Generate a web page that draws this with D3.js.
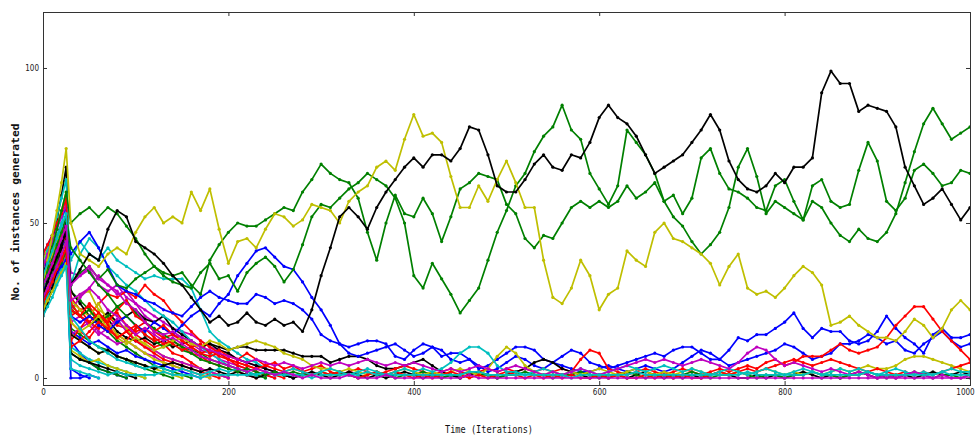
<!DOCTYPE html>
<html>
<head>
<meta charset="utf-8">
<script src="https://cdn.jsdelivr.net/npm/d3@7"></script>
<style>
  body { margin: 0; background: #fff; }
  svg { display: block; }
</style>
</head>
<body>
<svg id="chart" width="980" height="437"></svg>
<script>
// Sampling instants: fine steps through the start-up phase, then every 10 iterations.
const iterations = [0, 5, 10, 15, 20, 25].concat(d3.range(30, 1001, 10));

const xTicks = [0, 200, 400, 600, 800, 1000];
const yTicks = [0, 50, 100];

// matplotlib "classic" single-letter colours
const palette = { b: "#0000ff", g: "#008000", r: "#ff0000", c: "#00bfbf", m: "#bf00bf", y: "#bfbf00", k: "#000000" };

// ---- Runs that die out early (values on the same sampling instants, stop once they hit 0) ----
const earlyColors = ["b","g","r","c","m","y","k","b","g","r","c","m","y","k","b","g","r","c","m","y","k","r","b","m","y","g","c","r"];
const earlyRuns = [
  [26,30,34,37,40,44, 3,1,0],
  [32,36,40,44,47,52, 28,25,22,19,15,12,10,8,6,4,3,2,1,0],
  [28,31,35,38,42,45, 26,22,23,19,20,17,16,14,12,10,11,8,7,5,3,2,1,0],
  [34,38,42,46,50,56, 38,44,40,38,42,38,36,34,32,33,32,32,32,29,22,15,12,10,8,6,5,3,2,1,0],
  [30,33,37,40,44,50, 34,33,35,30,28,30,26,24,22,20,18,16,15,14,12,10,9,8,6,5,4,3,2,1,0],
  [22,26,29,33,36,40, 20,27,28,22,20,18,16,12,11,9,7,6,5,4,3,2,1,0],
  [24,28,32,36,40,45, 28,24,20,18,19,15,13,12,13,11,12,10,11,12,10,11,10,9,10,10,9,9,9,9,8,7,7,7,5,6,7,7,6,4,3,3,4,5,6,4,2,1,0],
  [35,38,41,44,47,50, 12,8,5,3,2,1,0],
  [22,25,28,31,34,37, 16,14,12,10,9,7,6,4,3,2,1,0],
  [36,39,42,45,48,52, 20,22,18,16,19,21,17,15,16,13,11,12,10,8,7,5,4,3,2,1,0],
  [26,29,32,35,38,41, 10,8,6,5,4,3,2,1,0],
  [24,27,30,33,36,39, 22,26,29,33,30,27,28,24,20,18,16,14,13,11,9,8,6,5,4,3,2,1,0],
  [38,42,46,50,54,60, 15,12,10,8,9,7,6,5,4,3,2,1,0],
  [30,37,44,51,59,68, 22,20,17,19,21,18,20,22,19,18,20,16,14,12,10,11,9,8,6,5,4,3,2,1,0],
  [30,33,37,40,43,47, 15,13,11,12,10,8,9,7,6,5,4,3,2,1,0],
  [28,32,35,39,42,46, 8,6,5,3,2,1,0],
  [32,35,39,42,46,49, 18,15,13,17,15,14,12,16,18,15,13,14,12,10,8,9,7,6,4,3,2,1,0],
  [36,41,46,52,58,64, 30,40,45,42,36,33,30,28,25,22,20,18,15,12,10,8,6,4,3,2,1,0],
  [33,36,40,43,47,51, 14,16,18,15,13,11,12,10,8,7,5,4,3,2,1,0],
  [26,30,34,37,41,44, 9,7,5,6,4,3,2,1,0],
  [34,37,41,44,48,52, 8,6,5,4,3,2,1,0],
  [26,29,32,36,39,42, 12,16,20,24,27,26,28,26,30,27,25,21,18,15,12,10,8,6,5,4,3,2,1,0],
  [40,43,46,49,52,55, 0,0,1,0],
  [36,40,44,48,52,56, 18,20,17,14,16,19,15,12,10,9,7,6,5,4,3,2,1,0],
  [32,36,40,44,48,52, 25,22,20,24,18,14,12,10,8,6,5,4,3,2,1,0],
  [25,28,31,34,37,41, 24,20,22,18,20,23,25,21,18,16,14,12,10,9,8,6,5,4,3,2,1,0],
  [23,26,29,32,35,38, 3,2,1,0],
  [40,43,46,50,53,58, 24,20,18,21,17,13,15,12,10,8,6,5,4,3,2,1,0]
];

// ---- Long-lived runs (full 0..1000 range) ----
const blueA = [25,28,31,34,36,38,
  20,18,20,17,15,18,20,17,
  15,18,16,14,17,20,22,20,24,27,
  33,37,41,42,39,36,35,31,26,22,
  17,11,8,7,8,9,10,11,9,7,
  8,10,9,6,5,6,4,2,3,5,
  7,6,4,3,5,4,3,2,2,3,
  4,3,2,3,4,3,2,3,5,7,
  9,8,6,4,5,6,7,8,9,11,
  10,8,6,7,8,11,11,12,14,13,
  11,12,9,8,11,13,15,12,10,11];

const blueB = [28,31,35,39,42,46,
  40,44,47,42,36,30,28,27,
  25,24,22,21,20,23,26,28,26,25,
  24,24,27,26,24,25,24,22,19,14,
  12,11,10,11,12,12,11,7,6,9,
  11,10,7,8,8,6,3,4,6,8,
  10,10,9,6,5,7,9,8,5,4,
  3,4,5,6,7,8,7,9,10,10,
  8,6,6,9,13,12,14,14,16,18,
  21,16,13,16,15,15,12,11,12,15,
  20,16,13,11,8,14,16,13,13,14];

const redA = [30,33,36,40,43,46,
  22,20,24,21,18,22,25,20,
  18,15,17,14,12,10,11,8,9,7,
  6,8,6,4,5,3,4,2,3,4,
  2,1,2,3,2,1,2,3,4,3,
  2,1,2,3,2,1,2,3,2,3,
  2,3,2,3,2,3,2,6,9,8,
  3,2,1,2,3,2,1,2,3,2,
  1,2,3,2,3,4,3,5,6,4,
  5,7,7,7,9,11,9,8,9,10,
  13,17,20,23,23,19,15,12,9,6];

const greenB = [24,28,33,38,43,48,
  30,34,36,32,35,30,29,32,
  34,36,33,31,30,29,34,37,32,33,
  28,34,37,39,36,31,35,43,52,56,
  55,58,61,63,66,64,62,58,50,33,
  29,37,32,27,21,25,29,38,47,54,
  62,66,73,78,81,88,80,77,66,61,
  56,62,80,76,72,66,57,52,49,44,
  40,43,47,55,68,74,65,53,57,55,
  53,51,57,55,50,46,44,48,45,44,
  47,53,63,73,82,87,82,77,79,81];

const greenA = [30,36,42,48,54,60,
  50,53,55,52,55,53,49,45,
  40,36,34,33,34,30,27,38,43,47,
  50,49,49,51,53,55,54,60,64,69,
  66,64,63,58,47,38,50,59,53,52,
  58,53,44,52,61,63,66,65,64,56,
  53,45,42,46,45,50,55,57,55,57,
  55,57,62,58,60,63,57,59,53,58,
  71,74,66,61,60,58,55,54,62,64,
  57,51,62,64,57,55,56,67,76,70,
  57,54,58,67,69,66,62,63,67,66];

const yellowA = [30,38,46,54,63,74,
  50,40,38,36,40,42,40,47,
  52,55,50,52,50,60,54,61,48,37,
  44,45,42,48,53,52,49,51,56,55,
  54,50,57,60,62,68,70,67,77,85,
  78,79,76,65,55,55,62,57,64,70,
  63,55,55,38,26,24,29,38,33,22,
  27,29,41,38,36,47,50,45,44,42,
  40,37,30,36,40,29,27,28,26,29,
  33,36,34,30,17,18,20,17,15,13,
  13,12,15,19,17,13,16,22,25,22];

const blackA = [20,24,29,35,42,50,
  30,35,40,38,48,54,52,44,
  42,40,37,33,30,26,22,18,20,17,
  18,21,18,17,19,17,18,15,22,33,
  42,52,55,52,48,55,60,64,68,71,
  68,72,72,70,74,81,80,72,62,60,
  60,64,69,72,68,67,72,71,76,84,
  88,84,82,78,72,66,68,70,72,76,
  80,85,80,70,64,61,60,62,66,63,
  68,68,71,92,99,95,95,86,88,87,
  86,81,68,62,56,58,61,56,51,55];

// ---- Runs that linger near zero for the whole period ----
const lowMagentaA = [26,29,33,36,40,44,
  30,33,36,32,30,28,24,22,
  18,15,14,15,13,12,10,9,8,7,
  6,5,6,5,4,5,4,3,4,5,
  4,5,4,5,6,5,4,5,4,5,
  4,3,2,3,2,3,4,3,2,3,
  4,3,2,1,2,1,2,3,2,1,
  2,3,4,5,6,5,6,5,4,5,
  6,5,4,3,5,8,10,9,6,4,
  5,4,3,2,3,2,1,2,1,0,
  1,0,1,2,1,0,1,0,0,1];

const lowCyanA = [33,37,41,45,49,53,
  20,16,12,10,8,6,5,4,
  3,4,3,2,3,2,1,2,3,2,
  3,2,1,2,1,2,3,2,1,2,
  3,2,1,2,3,2,1,2,3,2,
  3,2,3,5,8,10,10,8,4,2,
  2,1,2,3,2,1,2,3,2,1,
  2,3,4,3,2,3,4,3,2,3,
  2,1,2,3,2,1,2,3,2,1,
  2,3,2,1,2,3,2,3,2,1,
  2,3,2,1,2,1,2,3,2,2];

const lowBlack = [27,31,35,39,43,47,
  14,12,10,8,9,7,6,5,
  4,3,4,5,4,3,2,3,2,1,
  2,1,0,1,2,1,0,1,2,1,
  0,1,2,1,0,1,0,1,2,1,
  0,1,0,1,0,1,2,1,0,1,
  2,3,5,6,5,3,2,1,0,1,
  0,1,0,1,2,1,0,1,0,1,
  0,1,2,1,0,0,1,0,1,0,
  1,2,1,0,1,0,1,2,1,0,
  1,0,1,0,1,2,1,1,2,1];

const lowGreen = [30,34,38,43,47,52,
  42,38,34,30,27,23,20,17,
  14,12,10,11,9,8,6,5,4,3,
  2,3,2,1,2,1,2,1,1,2,
  1,2,1,0,1,2,1,0,1,1,
  2,1,0,1,1,2,1,1,0,1,
  1,2,1,1,0,1,1,2,1,0,
  1,1,2,1,0,1,1,0,1,2,
  1,0,1,1,2,1,0,1,1,0,
  1,1,2,1,1,0,1,1,2,1,
  0,1,1,2,1,0,1,1,0,1];

const lowYellow = [22,25,28,31,34,37,
  18,15,17,20,16,13,11,13,
  11,9,10,12,13,11,10,12,11,9,
  10,11,12,11,10,8,7,6,4,3,
  3,2,3,2,1,2,1,2,3,2,
  1,2,1,2,3,2,1,3,7,10,
  8,4,2,1,2,1,2,1,2,3,
  2,1,2,3,2,1,2,1,2,3,
  2,1,2,1,2,1,2,3,2,1,
  2,1,2,1,2,3,2,3,4,3,
  3,4,6,7,7,6,5,4,3,2];

const lowRed = [24,28,31,35,38,42,
  10,12,15,18,16,13,15,17,
  14,12,13,11,9,10,8,7,8,6,
  5,4,3,4,3,2,3,2,1,2,
  1,2,1,0,1,2,1,2,1,0,
  1,0,1,2,1,0,1,0,1,2,
  1,0,1,0,1,0,1,0,0,1,
  0,1,0,0,1,0,1,0,1,0,
  0,1,2,1,2,3,2,3,4,5,
  6,5,4,5,6,5,4,3,2,3,
  2,1,2,1,2,1,2,3,4,5];

const lowCyanB = [20,23,26,30,33,36,
  6,4,3,2,1,2,1,1,
  1,1,2,1,1,1,0,1,1,1,
  1,1,1,2,1,1,1,1,0,1,
  1,1,1,1,2,1,1,1,1,1,
  1,1,1,1,1,2,2,1,1,1,
  1,1,1,1,1,1,0,1,1,1,
  1,1,1,2,1,1,1,1,1,1,
  1,1,1,1,1,2,1,1,1,1,
  1,1,2,1,1,1,1,1,2,1,
  1,1,1,1,1,1,2,1,1,1];

const lowMagentaB = [30,33,37,41,45,49,
  25,27,29,26,22,20,17,14,
  16,14,12,13,11,9,7,6,5,4,
  3,2,3,2,1,2,1,0,1,0,
  0,0,1,0,0,0,1,0,0,0,
  0,0,0,0,0,1,0,0,0,0,
  0,0,0,0,0,0,0,0,0,0,
  0,0,0,0,0,0,0,0,0,0,
  0,0,0,0,0,0,0,0,0,0,
  0,0,0,0,0,0,0,0,0,0,
  0,0,0,0,0,0,0,0,0,0];

// Drawing order: early runs, long-lived runs, then the near-zero runs
const allSeries = earlyRuns.map((v, i) => ({ color: earlyColors[i], values: v }))
  .concat([
    { color: "b", values: blueA },
    { color: "b", values: blueB },
    { color: "r", values: redA },
    { color: "g", values: greenB },
    { color: "g", values: greenA },
    { color: "y", values: yellowA },
    { color: "k", values: blackA },
    { color: "k", values: lowBlack },
    { color: "g", values: lowGreen },
    { color: "y", values: lowYellow },
    { color: "r", values: lowRed },
    { color: "c", values: lowCyanA },
    { color: "m", values: lowMagentaA },
    { color: "c", values: lowCyanB },
    { color: "m", values: lowMagentaB }
  ]);

// ---- Layout ----
const svg = d3.select("#chart");
const plot = { left: 43, right: 970, top: 12, bottom: 385 };

const x = d3.scaleLinear().domain([0, 1000]).range([plot.left, plot.right]);
const y = d3.scaleLinear().domain([-2.26, 118.06]).range([plot.bottom, plot.top]);

svg.append("defs").append("clipPath").attr("id", "plotClip")
  .append("rect")
  .attr("x", plot.left).attr("y", plot.top)
  .attr("width", plot.right - plot.left).attr("height", plot.bottom - plot.top);

const line = d3.line()
  .x((d, i) => x(iterations[i]))
  .y(d => y(d));

const marks = svg.append("g").attr("clip-path", "url(#plotClip)");

allSeries.forEach(s => {
  const col = palette[s.color];
  const g = marks.append("g");
  g.append("path")
    .datum(s.values)
    .attr("fill", "none")
    .attr("stroke", col)
    .attr("stroke-width", 1.7)
    .attr("stroke-linejoin", "round")
    .attr("d", line);
  g.selectAll("circle")
    .data(s.values)
    .join("circle")
    .attr("cx", (d, i) => x(iterations[i]))
    .attr("cy", d => y(d))
    .attr("r", 1.6)
    .attr("fill", col);
});

// ---- Axes: ticks point inward on all four sides ----
const tickFont = "'DejaVu Sans', sans-serif";
function squeezeLabels(sel) {
  sel.selectAll("text")
    .attr("font-family", tickFont)
    .attr("font-size", 9)
    .attr("fill", "#222")
    .attr("textLength", function () { return this.textContent.length * 4.6; })
    .attr("lengthAdjust", "spacingAndGlyphs");
}

const xAxis = svg.append("g")
  .attr("transform", `translate(0,${plot.bottom})`)
  .call(d3.axisBottom(x).tickValues(xTicks).tickFormat(d3.format("d")).tickSize(-4).tickPadding(4));
const yAxis = svg.append("g")
  .attr("transform", `translate(${plot.left},0)`)
  .call(d3.axisLeft(y).tickValues(yTicks).tickFormat(d3.format("d")).tickSize(-4).tickPadding(4));
const xTop = svg.append("g")
  .attr("transform", `translate(0,${plot.top})`)
  .call(d3.axisTop(x).tickValues(xTicks).tickFormat("").tickSize(-4));
const yRight = svg.append("g")
  .attr("transform", `translate(${plot.right},0)`)
  .call(d3.axisRight(y).tickValues(yTicks).tickFormat("").tickSize(-4));

[xAxis, yAxis, xTop, yRight].forEach(a => {
  a.select(".domain").remove();
  a.selectAll(".tick line").attr("stroke", "#333");
  squeezeLabels(a);
});

// keep the last x label inside the canvas
xAxis.selectAll(".tick text").filter(d => d === 1000).attr("dx", -5);

// plot frame
svg.append("rect")
  .attr("x", plot.left + 0.5).attr("y", plot.top + 0.5)
  .attr("width", plot.right - plot.left).attr("height", plot.bottom - plot.top)
  .attr("fill", "none").attr("stroke", "#333").attr("stroke-width", 1);

// ---- Axis titles ----
svg.append("text")
  .attr("x", 489).attr("y", 433)
  .attr("text-anchor", "middle")
  .attr("font-family", "'DejaVu Sans Mono', monospace")
  .attr("font-size", 11)
  .attr("fill", "#111")
  .attr("textLength", 88)
  .attr("lengthAdjust", "spacingAndGlyphs")
  .text("Time (Iterations)");

svg.append("text")
  .attr("transform", "translate(19,212) rotate(-90)")
  .attr("text-anchor", "middle")
  .attr("font-family", "'DejaVu Sans Mono', monospace")
  .attr("font-size", 11)
  .attr("font-weight", "bold")
  .attr("fill", "#111")
  .attr("textLength", 177)
  .attr("lengthAdjust", "spacingAndGlyphs")
  .text("No. of instances generated");
</script>
</body>
</html>
